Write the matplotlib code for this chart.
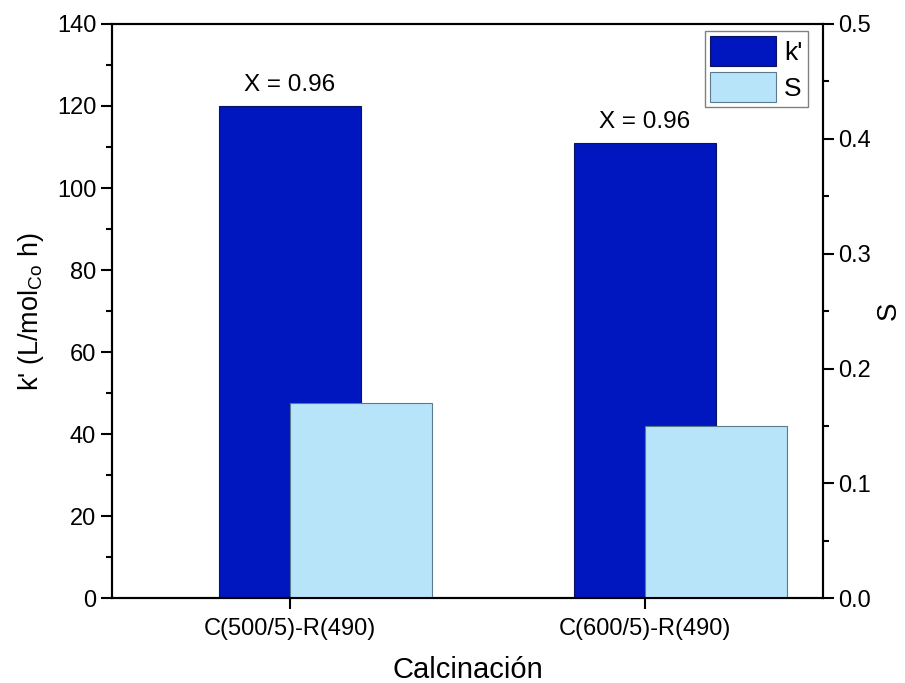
import matplotlib
matplotlib.use("Agg")
import matplotlib.pyplot as plt
from matplotlib.ticker import MultipleLocator

plt.rcParams['font.family'] = ['Liberation Sans', 'DejaVu Sans']

# data
categories = ["C(500/5)-R(490)", "C(600/5)-R(490)"]
k_values = [120, 111]
s_values = [0.17, 0.15]
conversion = ["X = 0.96", "X = 0.96"]

dark_blue = "#0016BE"
light_blue = "#B8E4FA"

fig, ax = plt.subplots(figsize=(9.05, 6.83), dpi=100)
fig.subplots_adjust(left=0.124, right=0.909, top=0.965, bottom=0.124)
ax2 = ax.twinx()

pos = list(range(1, len(categories) + 1))
width = 0.4

b1 = ax.bar(pos, k_values, width=width, color=dark_blue, edgecolor="#0A1460",
            linewidth=0.8, label="k'", zorder=2)
b2 = ax2.bar(pos, s_values, width=width, align="edge", color=light_blue,
             edgecolor="#5A7A90", linewidth=0.8, label="S", zorder=2)

for p, v, t in zip(pos, k_values, conversion):
    ax.text(p, v + 2.5, t, ha="center", va="bottom", fontsize=17.5)

ax.set_xlim(0.5, 2.5)
ax.set_ylim(0, 140)
ax2.set_ylim(0, 0.5)
ax.set_xticks(pos)
ax.set_xticklabels(categories)

ax.yaxis.set_major_locator(MultipleLocator(20))
ax.yaxis.set_minor_locator(MultipleLocator(10))
ax2.yaxis.set_major_locator(MultipleLocator(0.1))
ax2.yaxis.set_minor_locator(MultipleLocator(0.05))

for a in (ax, ax2):
    a.tick_params(axis="both", which="major", direction="out", length=8, width=1.5, labelsize=17)
    a.tick_params(axis="both", which="minor", direction="out", length=4, width=1.5)
    for s in a.spines.values():
        s.set_linewidth(1.5)
ax.tick_params(axis="x", labelsize=17, pad=6)

ax.set_ylabel("k' (L/mol$_{\\mathregular{Co}}$ h)", fontsize=19.5, labelpad=8)
ax2.set_ylabel("S", fontsize=20, labelpad=3)
ax.set_xlabel("Calcinación", fontsize=21, labelpad=12)

leg = ax.legend([b1, b2], ["k'", "S"], loc="upper right",
                bbox_to_anchor=(0.979, 0.988), borderaxespad=0, fontsize=19,
                fancybox=False, edgecolor="#808080", framealpha=1,
                handlelength=2.5, handleheight=1.35, handletextpad=0.3,
                borderpad=0.2, labelspacing=0.25)
leg.get_frame().set_linewidth(1.0)

plt.savefig("out.png", dpi=100)
